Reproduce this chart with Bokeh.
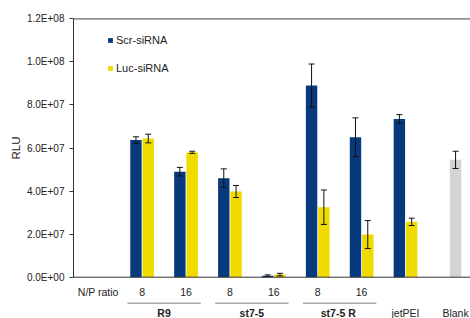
from bokeh.plotting import figure
from bokeh.models import (ColumnDataSource, Whisker, TeeHead, Legend, LegendItem,
                          FixedTicker, CustomJSTickFormatter, Range1d, Span, Title)
from bokeh.core.properties import value
from bokeh.embed import file_html
from bokeh.resources import INLINE

# ---- data ----
group_pos = [1, 2, 3, 4, 5, 6, 7]
np_labels = ["8", "16", "8", "16", "8", "16", ""]
scr = [6.37e7, 4.90e7, 4.60e7, 0.07e7, 8.90e7, 6.50e7, 7.35e7]
scr_err = [0.15e7, 0.20e7, 0.43e7, 0.04e7, 1.00e7, 0.90e7, 0.20e7]
luc = [6.44e7, 5.80e7, 3.98e7, 0.12e7, 3.25e7, 1.98e7, 2.57e7]
luc_err = [0.20e7, 0.05e7, 0.28e7, 0.06e7, 0.80e7, 0.65e7, 0.17e7]
blank_pos = [8]
blank = [5.45e7]
blank_err = [0.40e7]
group_names = ["R9", "st7-5", "st7-5  R"]
group_centers = [1.5, 3.5, 5.5]
single_names = ["jetPEI", "Blank"]
single_pos = [7, 8.14]
y_ticks = [0, 2e7, 4e7, 6e7, 8e7, 1e8, 1.2e8]
Y_MAX = 1.2e8

OFF = 0.14
BW = 0.26
SCR_C = "#073a7c"
LUC_C = "#f0db00"
BLK_C = "#d4d4d4"
FONT = "Liberation Sans"
TXT = "#222222"

PXU = Y_MAX / 258.4          # data units per pixel (vertical)
y_lo = -41.3 * PXU
y_hi = Y_MAX + 1.3 * PXU

p = figure(width=470, height=318, output_backend="svg", toolbar_location=None,
           x_range=Range1d(-0.563, 8.48), y_range=Range1d(y_lo, y_hi),
           min_border_left=73, min_border_right=0, min_border_top=17, min_border_bottom=0)
p.grid.visible = False
p.outline_line_color = None
p.background_fill_color = "white"
p.border_fill_color = "white"
p.xaxis.visible = False

def src(xs, ys, es, off):
    return ColumnDataSource(dict(x=[v + off for v in xs], top=ys,
                                 up=[a + b for a, b in zip(ys, es)],
                                 lo=[a - b for a, b in zip(ys, es)]))

s_scr = src(group_pos, scr, scr_err, -OFF)
s_luc = src(group_pos, luc, luc_err, OFF)
s_blk = src(blank_pos, blank, blank_err, OFF)

r_scr = p.vbar(x="x", top="top", bottom=0, width=BW, source=s_scr, fill_color=SCR_C, line_color=None)
r_luc = p.vbar(x="x", top="top", bottom=0, width=BW, source=s_luc, fill_color=LUC_C, line_color=None)
p.vbar(x="x", top="top", bottom=0, width=BW, source=s_blk, fill_color=BLK_C, line_color=None)

for s in (s_scr, s_luc, s_blk):
    w = Whisker(base="x", upper="up", lower="lo", source=s, line_color="#111111", line_width=1,
                level="overlay",
                upper_head=TeeHead(size=6, line_color="#111111", line_width=1),
                lower_head=TeeHead(size=6, line_color="#111111", line_width=1))
    p.add_layout(w)

# axis line at y=0 and top border
p.add_layout(Span(location=0, dimension="width", line_color="#333333", line_width=1))
p.add_layout(Span(location=Y_MAX, dimension="width", line_color="#666666", line_width=1.2))

# y axis
yax = p.yaxis[0]
yax.bounds = (0, Y_MAX)
yax.ticker = FixedTicker(ticks=y_ticks)
yax.formatter = CustomJSTickFormatter(code="""
var s = tick.toExponential(1).split('e'); var e = parseInt(s[1]);
var sg = e < 0 ? '-' : '+'; e = Math.abs(e);
return s[0] + 'E' + sg + (e < 10 ? '0' : '') + e;
""")
yax.minor_tick_line_color = None
yax.major_tick_out = 4
yax.major_tick_in = 0
yax.major_label_standoff = 5
yax.major_label_text_font = FONT
yax.major_label_text_font_size = "10px"
yax.major_label_text_color = TXT
yax.axis_line_color = "#333333"
yax.major_tick_line_color = "#333333"

# y axis title, centred on the 0..1.2E+08 span
p.add_layout(Title(text="RLU", align="left", offset=159, text_font=FONT,
                   text_font_size="11.5px", text_font_style="normal", text_color=TXT,
                   standoff=4), "left")

row1 = -14.3 * PXU
row_line = -26.0 * PXU
row2 = -36.0 * PXU

tf = value(FONT)
p.text(x=[0], y=[row1], text=["N/P ratio"], text_align="center", text_baseline="middle",
       text_font=tf, text_font_size="10.5px", text_color=TXT)
lab_x = [xp for xp, t in zip(group_pos, np_labels) if t]
lab_t = [t for t in np_labels if t]
p.text(x=lab_x, y=[row1] * len(lab_x), text=lab_t, text_align="center", text_baseline="middle",
       text_font=tf, text_font_size="10.5px", text_color=TXT)
p.text(x=group_centers, y=[row2] * len(group_centers), text=group_names, text_align="center",
       text_baseline="middle", text_font=tf, text_font_size="10.5px", text_font_style="bold",
       text_color=TXT)
p.segment(x0=[c - 0.835 for c in group_centers], x1=[c + 0.835 for c in group_centers],
          y0=[row_line] * 3, y1=[row_line] * 3, line_color="#aaaaaa", line_width=1.5)
p.text(x=single_pos, y=[row2] * len(single_pos), text=single_names, text_align="center",
       text_baseline="middle", text_font=tf, text_font_size="10.5px", text_color=TXT)

legend = Legend(items=[LegendItem(label="Scr-siRNA", renderers=[r_scr]),
                       LegendItem(label="Luc-siRNA", renderers=[r_luc])],
                location=(34, 244), orientation="vertical", padding=0, margin=0,
                spacing=16, glyph_width=6, glyph_height=6, label_standoff=3,
                label_text_font=FONT, label_text_font_size="11px", label_text_color=TXT,
                border_line_color=None, background_fill_alpha=0)
p.add_layout(legend, "center")

open("out.html", "w").write(file_html(p, INLINE))
